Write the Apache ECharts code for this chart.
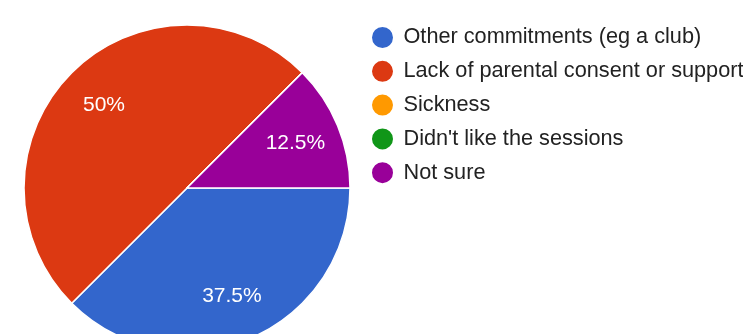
<!DOCTYPE html>
<html>
<head>
<meta charset="utf-8">
<script src="https://cdn.jsdelivr.net/npm/echarts@6/dist/echarts.min.js"></script>
<style>
  html, body { margin: 0; padding: 0; background: #fff; }
  #chart { width: 743px; height: 334px; }
</style>
</head>
<body>
<div id="chart"></div>
<script>
// answers and how many picked them (percent of responses)
const categories = [
    'Other commitments (eg a club)',
    'Lack of parental consent or support',
    'Sickness',
    "Didn't like the sessions",
    'Not sure'
]
const percents = [37.5, 50, 0, 0, 12.5]
const colors = ['#3366cc', '#dc3912', '#ff9900', '#109618', '#990099']

const pieCenter = [187, 188]
const pieRadius = 163
const labelRadiusFactor = 0.72
const startAngle = 0

const total = percents.reduce((a, b) => a + b, 0)

let chart = echarts.init(document.getElementById('chart'), null, { renderer: 'canvas' })

// Google places the slice labels further out than ECharts' 'inside' does,
// so push each label along the slice's mid angle.
function labelPos(idx) {
    let before = 0
    for (let i = 0; i < idx; ++i) {
        before += percents[i]
    }
    const mid = startAngle - (before + percents[idx] / 2) / total * 360
    const rad = mid * Math.PI / 180
    return {
        x: pieCenter[0] + Math.cos(rad) * pieRadius * labelRadiusFactor,
        y: pieCenter[1] - Math.sin(rad) * pieRadius * labelRadiusFactor,
    }
}

let options = {
    backgroundColor: '#ffffff',
    color: colors,
    legend: {
        orient: 'vertical',
        left: 365,
        top: 20,
        icon: 'circle',
        itemWidth: 32,
        itemHeight: 23,
        itemGap: 8.8,
        selectedMode: false,
        textStyle: {
            fontFamily: 'Liberation Sans, Arial, sans-serif',
            fontSize: 21.7,
            color: '#222222',
        },
        data: categories,
    },
    series: [
        {
            type: 'pie',
            center: pieCenter,
            radius: [0, pieRadius],
            startAngle: startAngle,
            clockwise: true,
            silent: true,
            animation: false,
            itemStyle: {
                borderColor: '#ffffff',
                borderWidth: 1.5,
            },
            label: {
                show: true,
                position: 'inside',
                color: '#ffffff',
                fontFamily: 'Liberation Sans, Arial, sans-serif',
                fontSize: 21,
                formatter: (p) => p.value > 0 ? p.value + '%' : '',
            },
            labelLine: { show: false },
            labelLayout: (params) => {
                const pos = labelPos(params.dataIndex)
                return {
                    x: pos.x,
                    y: pos.y,
                    align: 'center',
                    verticalAlign: 'middle',
                }
            },
            data: categories.map((name, idx) => ({
                name: name,
                value: percents[idx],
            })),
        }
    ]
}

chart.setOption(options)
</script>
</body>
</html>
